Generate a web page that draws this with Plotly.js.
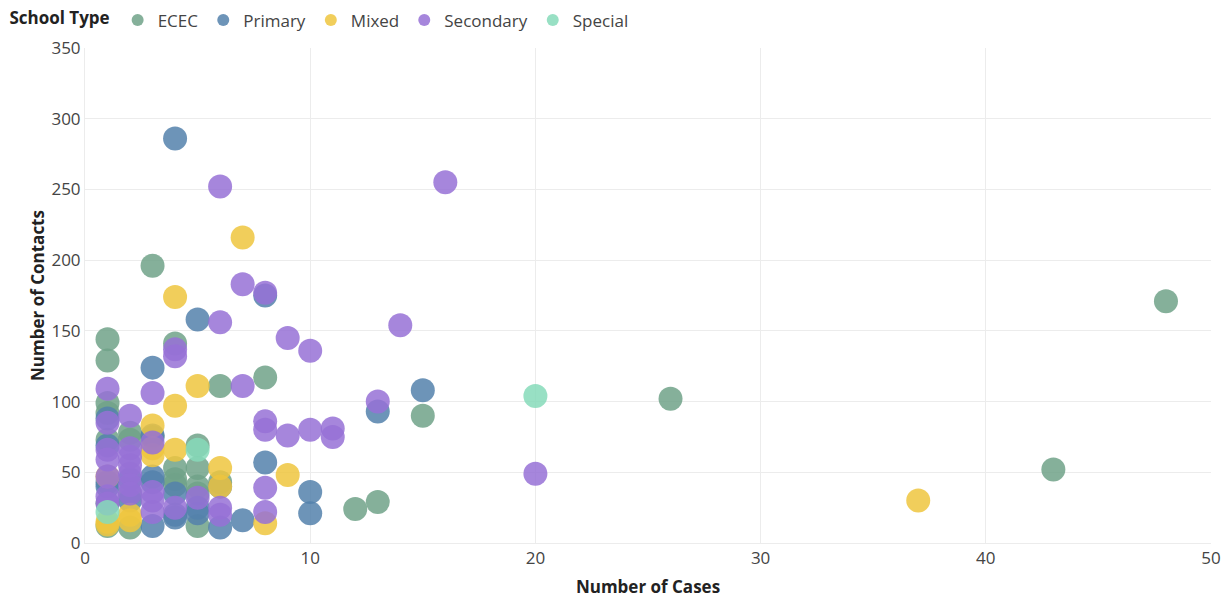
<!DOCTYPE html>
<html><head><meta charset="utf-8">
<script src="https://cdn.plot.ly/plotly-3.0.1.min.js"></script>
<style>html,body{margin:0;padding:0;background:#fff}#c{width:1232px;height:601px}</style>
</head><body><div id="c"></div>
<script>
const seriesNames = ["ECEC","Primary","Mixed","Secondary","Special"];
const colors = ["rgb(112,162,136)","rgb(84,129,172)","rgb(238,197,62)","rgb(150,113,214)","rgb(134,218,186)"];

const ececX = [3,1,1,4,6,8,26,48,43,15,13,12,5,5,4,4,5,5,5,1,1,1,2,2,3,1,2,2,6,1,4];
const ececY = [196,144,129,141,111,117,102,171,52,90,29,24,69,53,53,45,40,35,12,99,92,73,78,73,75,12,11,35,43,28,41];

const primaryX = [4,5,3,8,15,13,8,10,10,7,6,6,5,4,3,3,3,4,3,1,1,1,1,2,4,5,2];
const primaryY = [286,158,124,175,108,93,57,36,21,16,11,40,21,18,12,47,43,35,76,88,69,40,43,45,20,25,30];

const mixedX = [7,4,5,4,3,4,6,9,6,8,37,2,2,1,1,3,1,3];
const mixedY = [216,174,111,97,83,66,53,48,40,14,30,20,16,15,47,62,13,67];

const secondaryX = [6,16,7,8,6,14,9,10,4,4,7,1,3,13,20,8,8,9,10,11,11,2,1,1,1,1,2,2,2,2,2,2,3,3,3,3,4,5,6,6,8,8,1,1];
const secondaryY = [252,255,183,177,156,154,145,136,137,132,111,109,106,100,49,86,80,76,80,81,75,90,85,66,59,33,67,61,55,49,41,35,71,36,30,22,25,32,25,20,39,22,47,28];

const specialX = [20,5,1];
const specialY = [104,66,22];

const xs = [ececX, primaryX, mixedX, secondaryX, specialX];
const ys = [ececY, primaryY, mixedY, secondaryY, specialY];

const traces = seriesNames.map((n,i)=>({
  type:"scatter", mode:"markers", name:n, x:xs[i], y:ys[i],
  marker:{color:colors[i], size:24, opacity:0.85, line:{width:0}}
}));

const font = "'Open Sans', 'Noto Sans', sans-serif";
const layout = {
  width:1232, height:601,
  margin:{l:85, r:21, t:48, b:58},
  paper_bgcolor:"#fff", plot_bgcolor:"#fff",
  font:{family:font, size:16, color:"#333"},
  showlegend:true,
  legend:{orientation:"h", x:0.006, xref:"container", y:0.996, yref:"container", xanchor:"left", yanchor:"top",
    title:{text:"<b>School Type</b>", font:{size:17, color:"#222"}},
    font:{size:17, color:"#444"}, itemsizing:"constant", itemwidth:30, tracegroupgap:0},
  xaxis:{range:[0,50], dtick:10, showgrid:true, gridcolor:"#ececec", zeroline:false,
    showline:true, linecolor:"#ececec", ticks:"", tickfont:{size:17, color:"#444"},
    title:{text:"<b>Number of Cases</b>", font:{size:17, color:"#222"}, standoff:12}},
  yaxis:{range:[0,350], dtick:50, showgrid:true, gridcolor:"#ececec", zeroline:false,
    showline:true, linecolor:"#ececec", ticks:"", tickfont:{size:17, color:"#444"},
    title:{text:"<b>Number of Contacts</b>", font:{size:17, color:"#222"}, standoff:2}}
};
Plotly.newPlot("c", traces, layout, {displayModeBar:false, staticPlot:true});
</script></body></html>
